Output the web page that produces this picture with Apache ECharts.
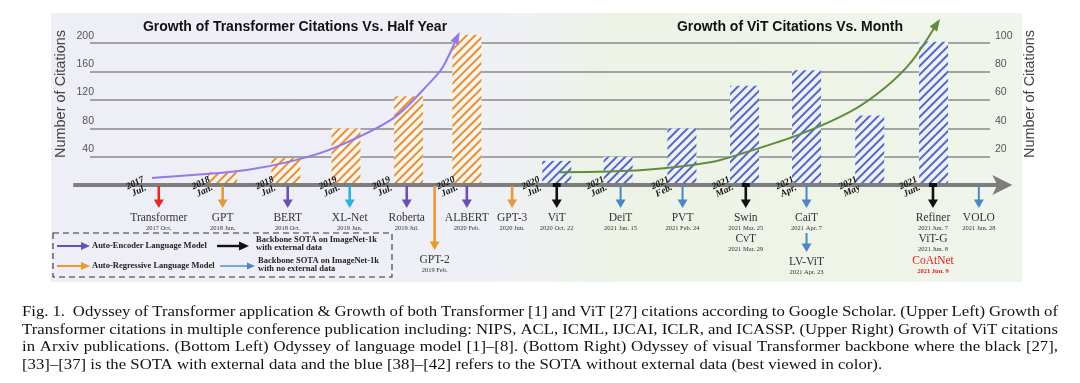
<!DOCTYPE html>
<html>
<head>
<meta charset="utf-8">
<script src="https://cdn.jsdelivr.net/npm/echarts@6.0.0/dist/echarts.min.js"></script>
<style>
html,body{margin:0;padding:0;background:#ffffff;}
#chart{width:1080px;height:383px;}
</style>
</head>
<body>
<div id="chart"></div>
<script>
// ---------------- data (timeline positions are in "timeline slot" units) ----------------
const transformerBarSlots = [2.06, 3.08, 4.05, 5.06, 6.0];
const transformerCitations = [18, 38, 80, 125, 212];
const vitBarSlots = [7.45, 8.44, 9.47, 10.48, 11.48, 12.5, 13.53];
const vitCitations = [17, 20, 40, 70, 81, 49, 101];
const leftTickValues = [40, 80, 120, 160, 200];
const rightTickValues = [20, 40, 60, 80, 100];
const periodLabels = ['2017\nJul.', '2018\nJan.', '2018\nJul.', '2019\nJan.', '2019\nJul.', '2020\nJan.', '2020\nJul.',
  '2021\nJan.', '2021\nFeb.', '2021\nMar.', '2021\nApr.', '2021\nMay', '2021\nJun.'];
const periodSlots = [0.68, 1.74, 2.77, 3.79, 4.65, 5.69, 7.06, 8.1, 9.15, 10.13, 11.16, 12.18, 13.15];
const modelNames = ['Transformer', 'GPT', 'BERT', 'XL-Net', 'Roberta', 'GPT-2', 'ALBERT', 'GPT-3',
  'ViT', 'DeiT', 'PVT', 'Swin', 'CaiT', 'Refiner', 'VOLO'];
const modelDates = ['2017 Oct.', '2018 Jun.', '2018 Oct.', '2019 Jun.', '2019 Jul.', '2019 Feb.', '2020 Feb.', '2020 Jun.',
  '2020 Oct. 22', '2021 Jan. 15', '2021 Feb. 24', '2021 Mar. 25', '2021 Apr. 7', '2021 Jun. 7', '2021 Jun. 28'];
const modelSlots = [1.03, 2.06, 3.11, 4.11, 5.03, 5.48, 6.0, 6.73, 7.45, 8.48, 9.48, 10.5, 11.48, 13.52, 14.26];
const modelGroup = ['origin', 'ar', 'ae', 'xl', 'ae', 'ar', 'ae', 'ar', 'ext', 'noext', 'noext', 'ext', 'noext', 'ext', 'noext'];
const extraNames = ['CvT', 'LV-ViT', 'ViT-G', 'CoAtNet'];
const extraDates = ['2021 Mar. 29', '2021 Apr. 23', '2021 Jun. 8', '2021 Jun. 9'];
const extraParent = [11, 12, 13, 13];
const transformerTrendSlots = [0.92, 1.74, 2.45, 3.19, 3.85, 4.81, 5.4, 5.61, 5.84];
const transformerTrendValues = [10, 15, 21, 34, 52, 94, 144, 166, 208];
const vitTrendSlots = [7.5, 8.84, 9.95, 10.52, 11.35, 12.18, 12.74, 13.18, 13.58];
const vitTrendValues = [9, 10.6, 16.2, 23.3, 35.3, 51.5, 68.4, 87.4, 113.5];
const timelineExtent = [-0.35, 14.8];
const captionLines = [
  'Fig. 1.  Odyssey of Transformer application & Growth of both Transformer [1] and ViT [27] citations according to Google Scholar. (Upper Left) Growth of',
  'Transformer citations in multiple conference publication including: NIPS, ACL, ICML, IJCAI, ICLR, and ICASSP. (Upper Right) Growth of ViT citations',
  'in Arxiv publications. (Bottom Left) Odyssey of language model [1]\u2013[8]. (Bottom Right) Odyssey of visual Transformer backbone where the black [27],',
  '[33]\u2013[37] is the SOTA with external data and the blue [38]\u2013[42] refers to the SOTA without external data (best viewed in color).'
];

// ---------------- styles ----------------
const GROUP_COLOR = {origin: '#e42a22', ar: '#e69a35', ae: '#6b4fb5', xl: '#28b4e2', ext: '#111111', noext: '#4d86c5'};
const LONG_ARROW = {'GPT-2': true};
const EXTRA_ARROW = {'LV-ViT': true};
const EXTRA_RED = {'CoAtNet': true};
const SERIF = 'Liberation Serif';
const SANS = 'Liberation Sans';
const PURPLE = '#9478ec';
const GREEN = '#5f8d3d';

const chart = echarts.init(document.getElementById('chart'), null, {renderer: 'canvas'});

function arrowDown(x, y0, y1, color, w, head) {
  return [
    {type: 'line', shape: {x1: x, y1: y0, x2: x, y2: y1 - head * 0.7}, style: {stroke: color, lineWidth: w}},
    {type: 'polygon', shape: {points: [[x - head / 2, y1 - head * 0.85], [x + head / 2, y1 - head * 0.85], [x, y1]]}, style: {fill: color}}
  ];
}
function hArrow(x0, x1, y, color, w, head) {
  return [
    {type: 'line', shape: {x1: x0, y1: y, x2: x1 - head * 0.7, y2: y}, style: {stroke: color, lineWidth: w}},
    {type: 'polygon', shape: {points: [[x1 - head, y - head * 0.45], [x1, y], [x1 - head, y + head * 0.45]]}, style: {fill: color}}
  ];
}

// ---------- static graphics ----------
const graphics = [];
graphics.push({
  type: 'rect', z: -10, silent: true,
  shape: {x: 51, y: 13, width: 971, height: 269},
  style: {fill: new echarts.graphic.LinearGradient(0, 0, 1, 0, [
    {offset: 0, color: '#edeef6'}, {offset: 0.46, color: '#eff0f6'},
    {offset: 0.58, color: '#edf3e6'}, {offset: 1, color: '#f0f5eb'}])}
});
graphics.push({type: 'text', x: 295, y: 27, style: {text: 'Growth of Transformer Citations Vs. Half Year', align: 'center', verticalAlign: 'middle', fontFamily: SANS, fontWeight: 'bold', fontSize: 14, fill: '#111'}});
graphics.push({type: 'text', x: 790, y: 27, style: {text: 'Growth of ViT Citations Vs. Month', align: 'center', verticalAlign: 'middle', fontFamily: SANS, fontWeight: 'bold', fontSize: 14, fill: '#111'}});
graphics.push({type: 'text', x: 61, y: 94, rotation: Math.PI / 2, style: {text: 'Number of Citations', align: 'center', verticalAlign: 'middle', fontFamily: SANS, fontSize: 14.5, fill: '#444'}});
graphics.push({type: 'text', x: 1030, y: 94, rotation: Math.PI / 2, style: {text: 'Number of Citations', align: 'center', verticalAlign: 'middle', fontFamily: SANS, fontSize: 14.5, fill: '#444'}});

// legend box
const legendFont = {fontFamily: SERIF, fontWeight: 'bold', fontSize: 8.5, fill: '#222'};
graphics.push({type: 'rect', shape: {x: 53, y: 233, width: 339, height: 44}, style: {fill: 'none', stroke: '#333', lineWidth: 1.1, lineDash: [6, 4]}});
hArrow(57, 90, 246, GROUP_COLOR.ae, 2, 9).forEach(e => graphics.push(e));
graphics.push({type: 'text', x: 92, y: 246, style: Object.assign({text: 'Auto-Encoder Language Model', align: 'left', verticalAlign: 'middle'}, legendFont)});
hArrow(217, 249, 246, GROUP_COLOR.ext, 2.4, 10).forEach(e => graphics.push(e));
graphics.push({type: 'text', x: 256, y: 244, style: Object.assign({text: 'Backbone SOTA on ImageNet-1k\nwith external data', align: 'left', verticalAlign: 'middle', lineHeight: 8.5}, legendFont)});
hArrow(57, 90, 266, GROUP_COLOR.ar, 2, 9).forEach(e => graphics.push(e));
graphics.push({type: 'text', x: 92, y: 266, style: Object.assign({text: 'Auto-Regressive Language Model', align: 'left', verticalAlign: 'middle'}, legendFont)});
hArrow(220, 255, 266, GROUP_COLOR.noext, 1.4, 8).forEach(e => graphics.push(e));
graphics.push({type: 'text', x: 258, y: 265, style: Object.assign({text: 'Backbone SOTA on ImageNet-1k\nwith no external data', align: 'left', verticalAlign: 'middle', lineHeight: 8.5}, legendFont)});

// caption (justified)
const CAP_FS = 15.5, CAP_SX = 1.08, CAP_X0 = 22, CAP_X1 = 1058, CAP_Y0 = 312, CAP_STEP = 17.5;
const mctx = document.createElement('canvas').getContext('2d');
mctx.font = CAP_FS + 'px "' + SERIF + '"';
captionLines.forEach((line, li) => {
  const y = CAP_Y0 + li * CAP_STEP;
  const justify = li < captionLines.length - 1;
  const words = line.split(' ');
  const widths = words.map(w => mctx.measureText(w).width * CAP_SX);
  const total = widths.reduce((a, b) => a + b, 0);
  const gap = justify ? (CAP_X1 - CAP_X0 - total) / (words.length - 1) : mctx.measureText(' ').width * CAP_SX;
  let x = CAP_X0;
  words.forEach((w, k) => {
    if (w) graphics.push({type: 'text', x: x, y: y, scaleX: CAP_SX, style: {text: w, align: 'left', verticalAlign: 'middle', fontFamily: SERIF, fontSize: CAP_FS, fill: '#111'}});
    x += widths[k] + gap;
  });
});

function hatch(color) {
  return {symbol: 'rect', symbolSize: 1, dashArrayX: [1, 0], dashArrayY: [1.8, 3.2], rotation: -Math.PI / 4, color: color};
}

function trendData(xs, ys, color, angle) {
  return xs.map((x, i) => i === xs.length - 1
    ? {value: [x, ys[i]], symbol: 'triangle', symbolSize: [9, 12], symbolRotate: angle, itemStyle: {color: color}}
    : [x, ys[i]]);
}

function buildOption(purpleAngle, greenAngle) {
  return {
    animation: false,
    backgroundColor: '#ffffff',
    grid: {left: 90, right: 90, top: 29, bottom: 198, containLabel: false},
    xAxis: {type: 'value', min: -0.08, max: 14.44, show: false},
    yAxis: [
      {
        type: 'value', min: 0, max: 220, interval: 40, position: 'left',
        axisLine: {show: false}, axisTick: {show: false},
        axisLabel: {showMinLabel: false, showMaxLabel: false, align: 'right', verticalAlign: 'bottom', margin: -4,
          padding: [0, 0, 2, 0], fontFamily: SANS, fontSize: 10.5, color: '#555',
          formatter: v => leftTickValues.indexOf(v) >= 0 ? String(v) : ''},
        splitLine: {show: true, showMinLine: false, showMaxLine: false, lineStyle: {color: '#a3a3a3', width: 2}}
      },
      {
        type: 'value', min: 0, max: 110, interval: 20, position: 'right',
        axisLine: {show: false}, axisTick: {show: false},
        axisLabel: {showMinLabel: false, showMaxLabel: false, align: 'left', verticalAlign: 'bottom', margin: 5,
          padding: [0, 0, 2, 0], fontFamily: SANS, fontSize: 10.5, color: '#555',
          formatter: v => rightTickValues.indexOf(v) >= 0 ? String(v) : ''},
        splitLine: {show: false}
      }
    ],
    graphic: {elements: graphics},
    series: [
      {
        type: 'bar', name: 'Transformer citations', xAxisIndex: 0, yAxisIndex: 0, barWidth: 29, barGap: '-100%', z: 2,
        data: transformerBarSlots.map((s, i) => [s, transformerCitations[i]]),
        itemStyle: {color: '#fdf3e7', decal: hatch('#e0913f')}
      },
      {
        type: 'bar', name: 'ViT citations', xAxisIndex: 0, yAxisIndex: 1, barWidth: 29, barGap: '-100%', z: 2,
        data: vitBarSlots.map((s, i) => [s, vitCitations[i]]),
        itemStyle: {color: '#eef1fb', decal: hatch('#5369bd')}
      },
      {
        // timeline arrow
        type: 'custom', xAxisIndex: 0, yAxisIndex: 0, z: 3, silent: true, clip: false,
        data: [[timelineExtent[0], 0, timelineExtent[1]]],
        encode: {x: [0, 2], y: 1},
        renderItem: function (params, api) {
          const a = api.coord([api.value(0), 0]);
          const b = api.coord([api.value(2), 0]);
          return {type: 'group', children: [
            {type: 'line', shape: {x1: a[0], y1: a[1], x2: b[0] - 10, y2: b[1]}, style: {stroke: '#7d7d7d', lineWidth: 4}},
            {type: 'polygon', shape: {points: [[b[0], b[1]], [b[0] - 20, b[1] - 10], [b[0] - 15, b[1]], [b[0] - 20, b[1] + 10]]}, style: {fill: '#7d7d7d'}}
          ]};
        }
      },
      {
        type: 'line', name: 'Transformer trend', xAxisIndex: 0, yAxisIndex: 0, z: 4, smooth: 0.3, clip: false,
        symbol: 'none', showSymbol: true,
        lineStyle: {color: PURPLE, width: 2}, itemStyle: {color: PURPLE},
        data: trendData(transformerTrendSlots, transformerTrendValues, PURPLE, purpleAngle)
      },
      {
        type: 'line', name: 'ViT trend', xAxisIndex: 0, yAxisIndex: 1, z: 4, smooth: 0.3, clip: false,
        symbol: 'none', showSymbol: true,
        lineStyle: {color: GREEN, width: 2}, itemStyle: {color: GREEN},
        data: trendData(vitTrendSlots, vitTrendValues, GREEN, greenAngle)
      },
      {
        // period labels on the timeline
        type: 'custom', xAxisIndex: 0, yAxisIndex: 0, z: 6, silent: true, clip: false,
        data: periodSlots.map((s, i) => [s, 0, i]),
        encode: {x: 0, y: 1},
        renderItem: function (params, api) {
          const p = api.coord([api.value(0), 0]);
          return {type: 'text', x: p[0], y: p[1] + 2, rotation: 0.45,
            style: {text: periodLabels[api.value(2)], align: 'center', verticalAlign: 'middle',
              fontFamily: SERIF, fontStyle: 'italic', fontWeight: 'bold', fontSize: 9.5, lineHeight: 8.5, fill: '#111'}};
        }
      },
      {
        // model milestones
        type: 'custom', xAxisIndex: 0, yAxisIndex: 0, z: 5, silent: true, clip: false,
        data: modelSlots.map((s, i) => [s, 0, i]),
        encode: {x: 0, y: 1},
        renderItem: function (params, api) {
          const i = api.value(2);
          const p = api.coord([api.value(0), 0]);
          const g = modelGroup[i];
          const col = GROUP_COLOR[g];
          const tip = p[1] + (LONG_ARROW[modelNames[i]] ? 65 : 23);
          const ch = [];
          if (g === 'ext') ch.push({type: 'rect', shape: {x: p[0] - 4, y: p[1] - 2, width: 8, height: 4}, style: {fill: '#111'}});
          arrowDown(p[0], p[1] + 1, tip, col, g === 'noext' ? 2 : 2.6, 10).forEach(e => ch.push(e));
          ch.push({type: 'text', x: p[0], y: tip + 10, style: {text: modelNames[i], align: 'center', verticalAlign: 'middle', fontFamily: SERIF, fontSize: 11.5, fill: '#333'}});
          ch.push({type: 'text', x: p[0], y: tip + 20, style: {text: modelDates[i], align: 'center', verticalAlign: 'middle', fontFamily: SERIF, fontSize: 6.5, fill: '#333'}});
          return {type: 'group', children: ch};
        }
      },
      {
        // additional models stacked below a milestone
        type: 'custom', xAxisIndex: 0, yAxisIndex: 0, z: 5, silent: true, clip: false,
        data: extraParent.map((pi, j) => [modelSlots[pi], 0, j]),
        encode: {x: 0, y: 1},
        renderItem: function (params, api) {
          const j = api.value(2);
          const p = api.coord([api.value(0), 0]);
          const nm = extraNames[j];
          let level = 0;
          for (let k = 0; k < j; k++) if (extraParent[k] === extraParent[j]) level++;
          const ch = [];
          let nameY;
          if (EXTRA_ARROW[nm]) {
            arrowDown(p[0], p[1] + 48, p[1] + 67, GROUP_COLOR[modelGroup[extraParent[j]]], 2, 10).forEach(e => ch.push(e));
            nameY = p[1] + 77;
          } else {
            nameY = p[1] + 54 + level * 22;
          }
          const col = EXTRA_RED[nm] ? '#e01f1f' : '#333';
          ch.push({type: 'text', x: p[0], y: nameY, style: {text: nm, align: 'center', verticalAlign: 'middle', fontFamily: SERIF, fontSize: 11.5, fill: col}});
          ch.push({type: 'text', x: p[0], y: nameY + 10.5, style: {text: extraDates[j], align: 'center', verticalAlign: 'middle', fontFamily: SERIF, fontSize: 6.5, fontWeight: EXTRA_RED[nm] ? 'bold' : 'normal', fill: col}});
          return {type: 'group', children: ch};
        }
      }
    ]
  };
}

chart.setOption(buildOption(-35, -45));
function headAngle(seriesIndex, xs, ys) {
  const n = xs.length;
  const a = chart.convertToPixel({seriesIndex: seriesIndex}, [xs[n - 2], ys[n - 2]]);
  const b = chart.convertToPixel({seriesIndex: seriesIndex}, [xs[n - 1], ys[n - 1]]);
  return -Math.atan2(b[0] - a[0], -(b[1] - a[1])) * 180 / Math.PI;
}
const pa = headAngle(3, transformerTrendSlots, transformerTrendValues);
const ga = headAngle(4, vitTrendSlots, vitTrendValues);
chart.setOption(buildOption(pa, ga), true);
</script>
</body>
</html>
